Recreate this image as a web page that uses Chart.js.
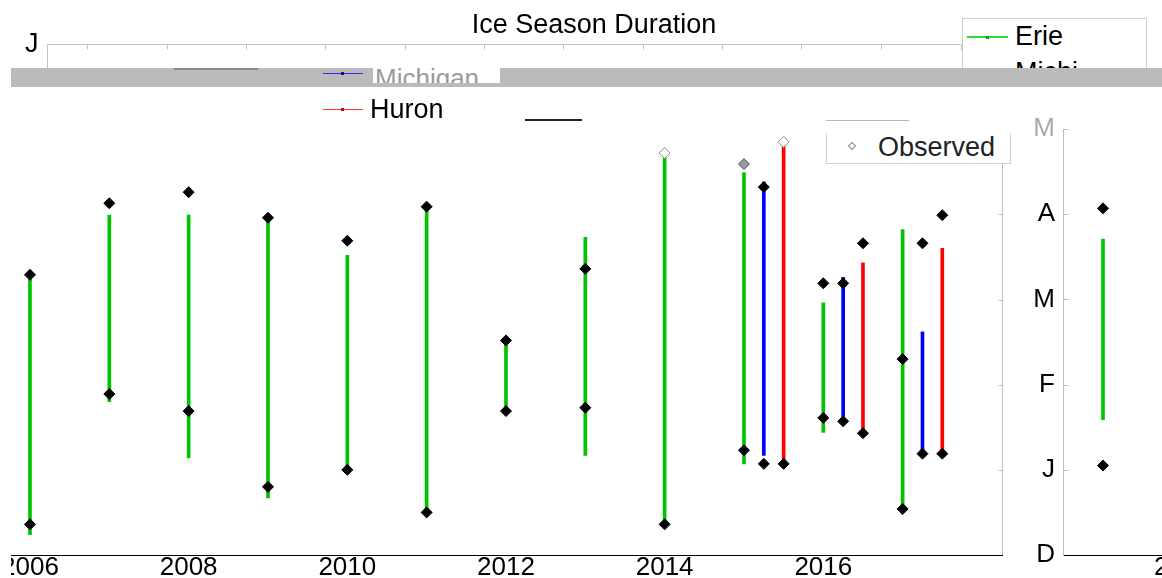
<!DOCTYPE html>
<html><head><meta charset="utf-8">
<script src="https://cdn.jsdelivr.net/npm/chart.js@4/dist/chart.umd.min.js"></script>
<style>
html,body{margin:0;padding:0;width:1162px;height:578px;overflow:hidden;background:#fff;font-family:'Liberation Sans',Arial,sans-serif;}
.abs{position:absolute;}
.t{position:absolute;white-space:nowrap;line-height:1;color:#000;font-size:27px;}
</style></head><body>

<div class="abs" style="left:11px;top:0;width:1000px;height:578px;overflow:hidden;">
  <canvas id="main" class="abs" width="1013" height="581" style="left:-21px;top:0;"></canvas>
</div>
<div class="abs" style="left:1023px;top:0;width:200px;height:581px;">
  <canvas id="side" width="200" height="581"></canvas>
</div>

<!-- title and stray axis label -->
<div class="t" style="left:0;width:1188px;text-align:center;top:10.5px;">Ice Season Duration</div>
<div class="t" style="left:25px;top:30px;">J</div>

<!-- Erie legend box (partly hidden) -->
<div class="abs" style="left:962px;top:18px;width:183px;height:49px;border:1px solid #cfcfcf;border-bottom:none;background:#fff;overflow:hidden;">
  <div class="abs" style="left:4px;top:17px;width:41px;height:1.5px;background:#33d633;"></div>
  <div class="abs" style="left:23px;top:16.5px;width:3px;height:3px;background:#1a9a1a;"></div>
  <div class="t" style="left:52px;top:3.8px;">Erie</div>
  <div class="t" style="left:52px;top:40px;">Michi</div>
</div>

<!-- grey glitch band -->
<div class="abs" style="left:11px;top:68px;width:1151px;height:19px;background:#bbbbbb;"></div>
<div class="abs" style="left:174px;top:68px;width:84px;height:1.5px;background:#8a8a8a;"></div>
<div class="abs" style="left:323px;top:72.5px;width:40px;height:1.5px;background:#2a2ae0;"></div>
<div class="abs" style="left:341px;top:72px;width:3px;height:3px;background:#101090;"></div>
<div class="abs" style="left:373px;top:68px;width:127px;height:15px;background:#fff;overflow:hidden;">
  <div class="t" style="left:2px;top:-3px;color:#9a9a9a;font-size:26px;">Michigan</div>
</div>

<!-- Huron legend entry -->
<div class="abs" style="left:323px;top:108.5px;width:40px;height:1.5px;background:#ff3030;"></div>
<div class="abs" style="left:341px;top:108px;width:3px;height:3px;background:#b01010;"></div>
<div class="t" style="left:370px;top:96px;">Huron</div>

<!-- stray fragments -->
<div class="abs" style="left:525px;top:118.5px;width:57px;height:2px;background:#222;"></div>
<div class="abs" style="left:826px;top:87px;width:185px;height:76px;background:#fff;"></div>
<div class="abs" style="left:826px;top:120px;width:83px;height:1px;background:#bcb4b4;"></div>

<!-- Observed legend box -->
<div class="abs" style="left:826px;top:133px;width:183px;height:30px;border:1px solid #cfcfcf;border-top:none;background:#fff;"></div>
<div class="abs" style="left:849px;top:143px;width:4px;height:4px;border:1px solid #888;transform:rotate(45deg);background:#fff;"></div>
<div class="t" style="left:878px;top:133.5px;color:#222;">Observed</div>

<script>
// ---------- data (month index: 0 = Dec 1, 1 = Jan, ... 6 = Jun) ----------
const monthLabels = ['D', 'J', 'F', 'M', 'A', 'M', 'J'];
const mainXTicks = [2006, 2008, 2010, 2012, 2014, 2016];

const erieYears      = [2006, 2007, 2008, 2009, 2010, 2011, 2012, 2013, 2014, 2015, 2016, 2017];
const erieModelStart = [0.24, 1.80, 1.14, 0.67, 1.00, 0.49, 1.69, 1.17, 0.37, 1.07, 1.44, 0.53];
const erieModelEnd   = [3.27, 3.99, 3.99, 3.96, 3.52, 4.09, 2.52, 3.73, 4.72, 4.49, 2.96, 3.82];
const erieObsStart   = [0.36, 1.89, 1.69, 0.80, 1.00, 0.50, 1.69, 1.73, 0.36, 1.23, 1.61, 0.54];
const erieObsEnd     = [3.29, 4.13, 4.26, 3.96, 3.69, 4.09, 2.52, 3.36, 4.72, 4.59, 3.19, 2.30];
const erieEndRecord  = ['final','final','final','final','final','final','final','final','open','partial','final','final'];

const lakeYears       = [2015, 2016, 2017];
const michModelStart  = [1.17, 1.57, 1.19];
const michModelEnd    = [4.38, 3.26, 2.62];
const michObsStart    = [1.07, 1.57, 1.19];
const michObsEnd      = [4.32, 3.19, 3.66];
const huronModelStart = [1.12, 1.43, 1.19];
const huronModelEnd   = [4.81, 3.43, 3.60];
const huronObsStart   = [1.07, 1.43, 1.19];
const huronObsEnd     = [4.85, 3.66, 3.99];
const huronEndRecord  = ['open', 'final', 'final'];

const sideYears      = [2018];
const sideModelStart = [1.59];
const sideModelEnd   = [3.71];
const sideObsStart   = [1.05];
const sideObsEnd     = [4.07];
const sideXTicks     = [2019];

// ---------- styling / layout ----------
const FONT = {family: "'Liberation Sans', Arial, sans-serif", size: 26, lineHeight: 1};
const lakeOffset = {Erie: 0, Michigan: 0.25, Huron: 0.5};
const lakeColor = {Erie: '#00c400', Michigan: '#0000ff', Huron: '#ff0000'};
const recordFill = {final: '#000000', open: '#ffffff', partial: '#9a9a9a'};
const recordEdge = {final: '#000000', open: '#8a8a8a', partial: '#555555'};

function barSet(name, years, lo, hi) {
  return {
    type: 'bar', label: name,
    data: years.map((yr, i) => ({x: yr + lakeOffset[name], y: [lo[i], hi[i]]})),
    backgroundColor: lakeColor[name], borderWidth: 0,
    barThickness: 3, grouped: false, order: 2
  };
}
function obsSet(name, years, start, end, endRec) {
  const data = [], fill = [], edge = [];
  years.forEach((yr, i) => {
    data.push({x: yr + lakeOffset[name], y: start[i]}); fill.push(recordFill.final); edge.push(recordEdge.final);
    const r = endRec ? endRec[i] : 'final';
    data.push({x: yr + lakeOffset[name], y: end[i]}); fill.push(recordFill[r]); edge.push(recordEdge[r]);
  });
  return {
    type: 'scatter', label: 'Observed', data,
    pointStyle: 'rectRot', pointRadius: 5.5, pointBorderWidth: 1,
    pointBackgroundColor: fill, pointBorderColor: edge, order: 1, clip: false
  };
}

// decorative (glitched) top frame of the main axes, in year units
const topFrameStart = 2006.21, topFrameEnd = 2017.73, topFrameTick0 = 2006.722;

const mainDeco = {
  id: 'mainDeco',
  afterDraw(chart) {
    const {ctx, chartArea: a, scales: {x, y}} = chart;
    ctx.save();
    ctx.strokeStyle = '#c2c2c2'; ctx.lineWidth = 1;
    ctx.beginPath();
    const rx = Math.round(a.right) - 0.5;
    ctx.moveTo(rx, a.top); ctx.lineTo(rx, a.bottom);
    for (let v = 1; v <= 5; v++) {
      const py = Math.round(y.getPixelForValue(v)) + 0.5;
      ctx.moveTo(rx, py); ctx.lineTo(rx - 4, py);
    }
    const ty = Math.round(a.top) + 0.5;
    const x0 = Math.round(x.getPixelForValue(topFrameStart)) + 0.5;
    const x1 = Math.round(x.getPixelForValue(topFrameEnd)) + 0.5;
    ctx.moveTo(x0, ty); ctx.lineTo(x1, ty);
    ctx.moveTo(x0, ty); ctx.lineTo(x0, ty + 24);
    ctx.moveTo(x1, ty); ctx.lineTo(x1, ty + 6);
    for (let k = 0; k <= 10; k++) {
      const px = Math.round(x.getPixelForValue(topFrameTick0 + k)) + 0.5;
      ctx.moveTo(px, ty); ctx.lineTo(px, ty + 5);
    }
    ctx.stroke();
    ctx.restore();
  }
};

new Chart(document.getElementById('main'), {
  type: 'bar',
  data: {
    datasets: [
      barSet('Erie', erieYears, erieModelStart, erieModelEnd),
      barSet('Michigan', lakeYears, michModelStart, michModelEnd),
      barSet('Huron', lakeYears, huronModelStart, huronModelEnd),
      obsSet('Erie', erieYears, erieObsStart, erieObsEnd, erieEndRecord),
      obsSet('Michigan', lakeYears, michObsStart, michObsEnd, null),
      obsSet('Huron', lakeYears, huronObsStart, huronObsEnd, huronEndRecord)
    ]
  },
  options: {
    responsive: false, animation: false, devicePixelRatio: 1,
    layout: {autoPadding: false, padding: {top: 44, left: 0, right: 0, bottom: 0}},
    plugins: {legend: {display: false}, tooltip: {enabled: false}, title: {display: false}},
    scales: {
      x: {
        type: 'linear', min: 2005.496, max: 2018.265, offset: false,
        grid: {display: false, drawTicks: false, offset: false},
        border: {display: true, color: '#000', width: 1},
        afterBuildTicks: s => { s.ticks = mainXTicks.map(v => ({value: v})); },
        ticks: {font: FONT, color: '#000', padding: 0, maxRotation: 0, autoSkip: false,
                callback: v => String(v)}
      },
      y: {type: 'linear', min: 0, max: 6, display: false}
    }
  },
  plugins: [mainDeco]
});

const sideDeco = {
  id: 'sideDeco',
  afterDraw(chart) {
    const {ctx, chartArea: a, scales: {y}} = chart;
    ctx.save();
    ctx.strokeStyle = '#bdbdbd'; ctx.lineWidth = 1;
    ctx.beginPath();
    const lx = Math.round(a.left) + 0.5;
    for (let v = 1; v <= 5; v++) {
      const py = Math.round(y.getPixelForValue(v)) + 0.5;
      ctx.moveTo(lx, py); ctx.lineTo(lx + 5, py);
    }
    ctx.stroke();
    ctx.restore();
  }
};

new Chart(document.getElementById('side'), {
  type: 'bar',
  data: {
    datasets: [
      barSet('Erie', sideYears, sideModelStart, sideModelEnd),
      obsSet('Erie', sideYears, sideObsStart, sideObsEnd, null)
    ]
  },
  options: {
    responsive: false, animation: false, devicePixelRatio: 1,
    layout: {autoPadding: false, padding: {top: 129.15, left: 0, right: 0, bottom: 0}},
    plugins: {legend: {display: false}, tooltip: {enabled: false}},
    scales: {
      x: {
        type: 'linear', min: 2017.5, max: 2019.5, offset: false,
        grid: {display: false, drawTicks: false, offset: false},
        border: {display: true, color: '#000', width: 1},
        afterBuildTicks: s => { s.ticks = sideXTicks.map(v => ({value: v})); },
        ticks: {font: FONT, color: '#000', padding: 0, maxRotation: 0, callback: v => String(v)}
      },
      y: {
        type: 'linear', min: 0, max: 5, position: 'left',
        grid: {display: false, drawTicks: false},
        border: {display: true, color: '#bdbdbd', width: 1},
        afterFit: s => { s.width = 40; },
        ticks: {font: FONT, stepSize: 1, padding: 8,
                color: c => (c.tick && c.tick.value === 5) ? '#aaaaaa' : '#000',
                callback: v => monthLabels[v]}
      }
    }
  },
  plugins: [sideDeco]
});
</script>
</body></html>
